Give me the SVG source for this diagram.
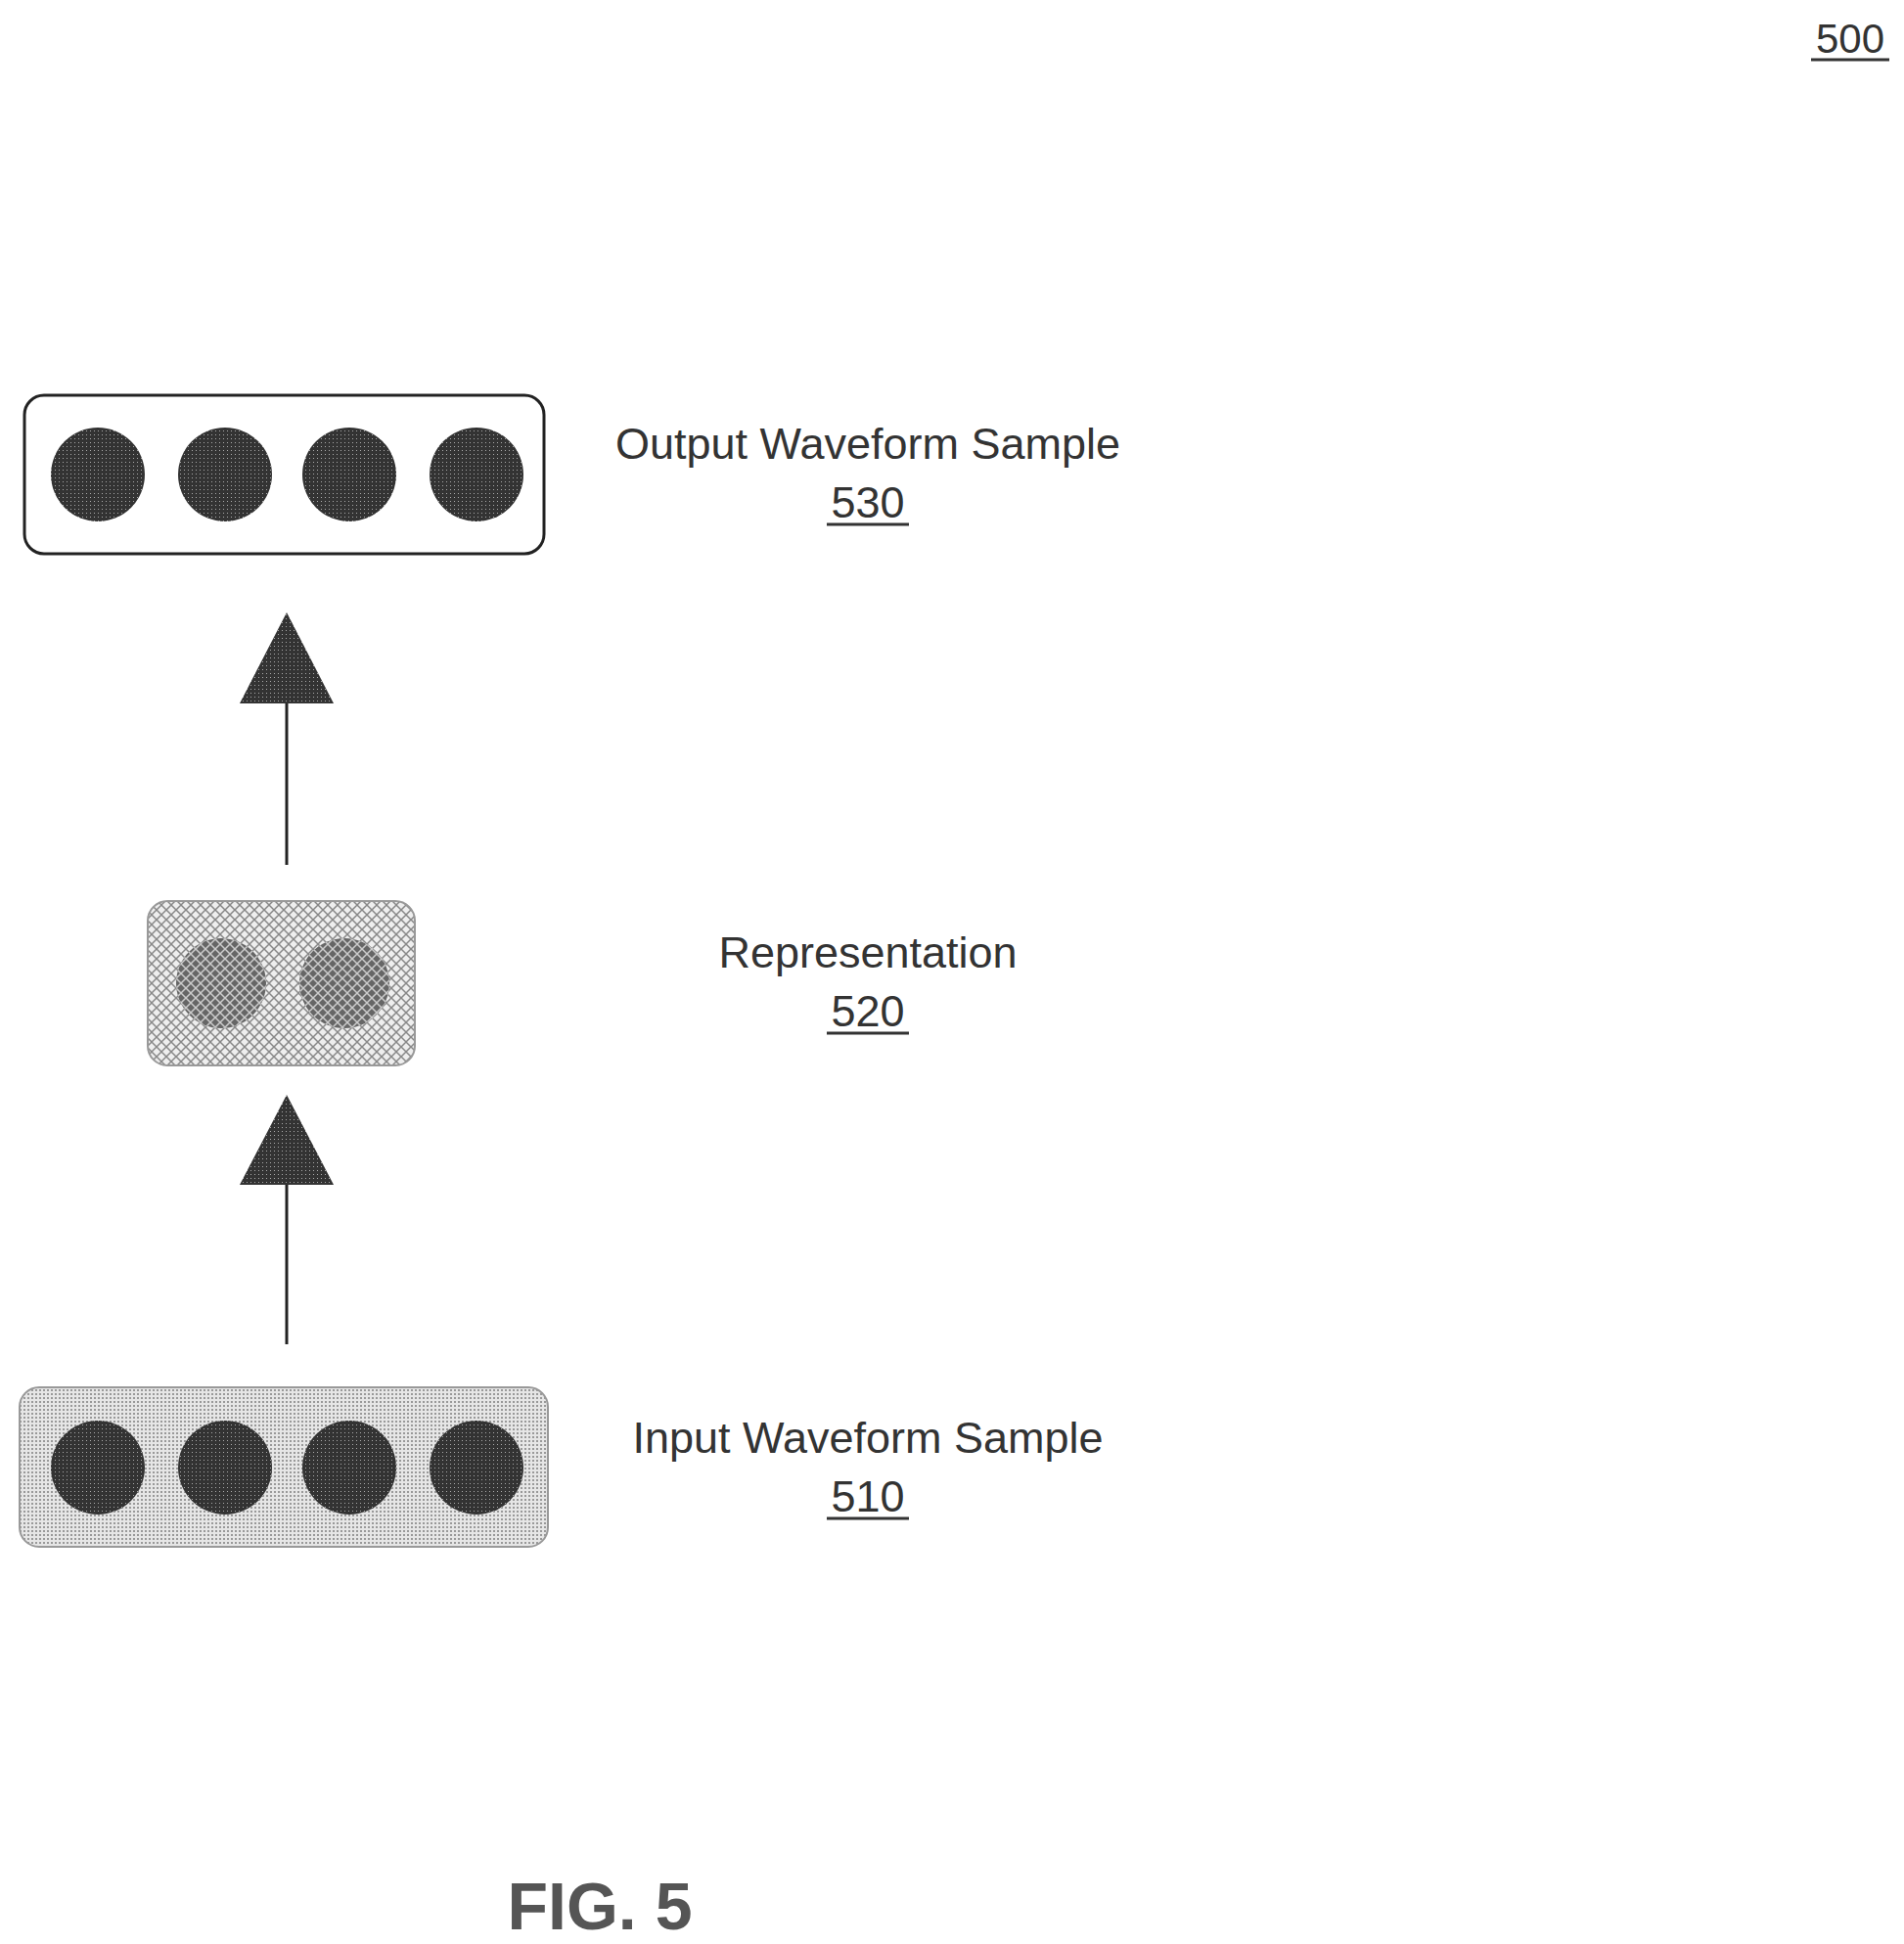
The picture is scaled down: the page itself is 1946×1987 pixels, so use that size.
<svg xmlns="http://www.w3.org/2000/svg" width="1946" height="1987" viewBox="0 0 1946 1987">
<style>
.t{font-family:"Liberation Sans",Arial,sans-serif;font-size:45px;fill:#333;text-anchor:middle}
.box{stroke:#222;stroke-width:3}
.dot{fill:url(#dark)}
.conn{stroke:#222;stroke-width:3}
</style>
<defs>
<pattern id="dark" width="4" height="4" patternUnits="userSpaceOnUse"><rect width="4" height="4" fill="#333"/><rect width="1" height="1" fill="#aaa"/></pattern>
<pattern id="dots" width="4" height="4" patternUnits="userSpaceOnUse"><rect width="4" height="4" fill="#e6e6e6"/><rect width="2" height="2" fill="#999"/></pattern>
<pattern id="hatch" width="10" height="10" patternUnits="userSpaceOnUse"><rect width="10" height="10" fill="#eee"/><path d="M0 0L10 10M10 0L0 10" stroke="#888" stroke-width="1.5"/></pattern>
<pattern id="hatchd" width="10" height="10" patternUnits="userSpaceOnUse"><rect width="10" height="10" fill="#666"/><path d="M0 0L10 10M10 0L0 10" stroke="#ccc" stroke-width="1.5"/></pattern>
</defs>
<rect width="1946" height="1987" fill="#fff"/>
<g id="label500"><text x="1891" y="54" class="t" style="font-size:42px">500</text><line x1="1851" y1="61" x2="1931" y2="61" stroke="#333" stroke-width="3"/></g>
<g id="n530">
<rect x="25" y="404" width="531" height="162" rx="20" fill="#fff" class="box"/>
<circle cx="100" cy="485" r="48" class="dot"/><circle cx="230" cy="485" r="48" class="dot"/><circle cx="357" cy="485" r="48" class="dot"/><circle cx="487" cy="485" r="48" class="dot"/>
<text x="887" y="469" class="t">Output Waveform Sample</text><text x="887" y="529" class="t">530</text><line x1="845" y1="536" x2="929" y2="536" stroke="#333" stroke-width="3"/>
</g>
<g id="n520">
<rect x="151" y="921" width="273" height="168" rx="20" fill="url(#hatch)" stroke="#999" stroke-width="2"/>
<circle cx="226" cy="1005" r="46" fill="url(#hatchd)"/><circle cx="352" cy="1005" r="46" fill="url(#hatchd)"/>
<text x="887" y="989" class="t">Representation</text><text x="887" y="1049" class="t">520</text><line x1="845" y1="1056" x2="929" y2="1056" stroke="#333" stroke-width="3"/>
</g>
<g id="n510">
<rect x="20" y="1418" width="540" height="163" rx="20" fill="url(#dots)" stroke="#999" stroke-width="2"/>
<circle cx="100" cy="1500" r="48" class="dot"/><circle cx="230" cy="1500" r="48" class="dot"/><circle cx="357" cy="1500" r="48" class="dot"/><circle cx="487" cy="1500" r="48" class="dot"/>
<text x="887" y="1485" class="t">Input Waveform Sample</text><text x="887" y="1545" class="t">510</text><line x1="845" y1="1552" x2="929" y2="1552" stroke="#333" stroke-width="3"/>
</g>
<g id="connectors">
<line x1="293" y1="884" x2="293" y2="715" class="conn"/><polygon points="293,626 245,719 341,719" fill="url(#dark)"/>
<line x1="293" y1="1374" x2="293" y2="1207" class="conn"/><polygon points="293,1119 245,1211 341,1211" fill="url(#dark)"/>
</g>
<text x="613" y="1972" style="font-family:'Liberation Sans',Arial,sans-serif;font-size:68px;font-weight:bold;fill:#555;text-anchor:middle">FIG. 5</text>
</svg>
